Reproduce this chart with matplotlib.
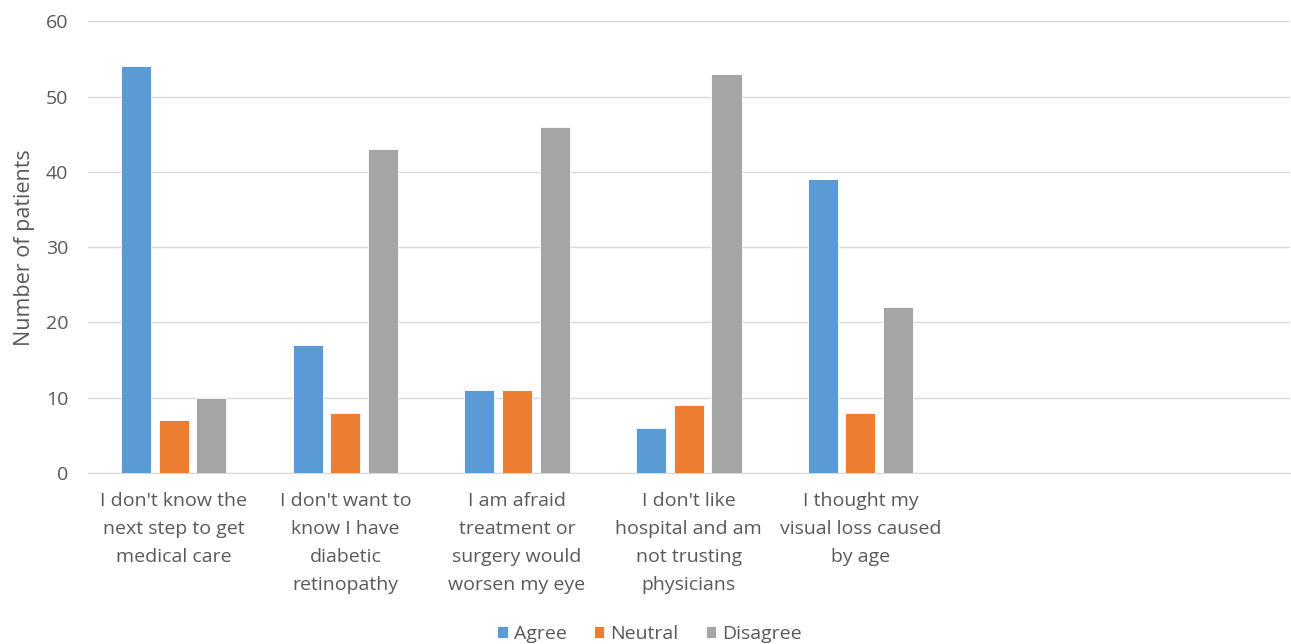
import matplotlib

matplotlib.use("Agg")
import matplotlib.pyplot as plt
import numpy as np

categories = [
    "I don't know the\nnext step to get\nmedical care",
    "I don't want to\nknow I have\ndiabetic\nretinopathy",
    "I am afraid\ntreatment or\nsurgery would\nworsen my eye",
    "I don't like\nhospital and am\nnot trusting\nphysicians",
    "I thought my\nvisual loss caused\nby age",
    "",
    "",
]
series_names = ["Agree", "Neutral", "Disagree"]
agree = [54, 17, 11, 6, 39]
neutral = [7, 8, 11, 9, 8]
disagree = [10, 43, 46, 53, 22]
y_ticks = [0, 10, 20, 30, 40, 50, 60]

colors = ["#5B9BD5", "#ED7D31", "#A5A5A5"]
text_color = "#595959"

plt.rcParams["font.family"] = ["Open Sans", "DejaVu Sans"]

fig = plt.figure(figsize=(12.91, 6.44), dpi=100)
ax = fig.add_axes([0.068, 0.2655, 0.931, 0.7015])

x = np.arange(len(categories))
width = 0.175
step = 0.22
for i, (name, vals) in enumerate(zip(series_names, [agree, neutral, disagree])):
    ax.bar(x[:len(vals)] + (i - 1) * step, vals, width=width, color=colors[i],
           label=name, zorder=3, edgecolor="white", linewidth=0.6)

ax.set_xlim(-0.5, len(categories) - 0.5)
ax.set_ylim(0, 60)
ax.set_yticks(y_ticks)
ax.set_xticks(x)
ax.set_xticklabels(categories, fontsize=14, color=text_color, linespacing=1.7)
ax.tick_params(axis="y", labelsize=14, colors=text_color, length=0, pad=14)
ax.tick_params(axis="x", length=0, pad=14)
ax.grid(axis="y", color="#D9D9D9", linewidth=1.0, zorder=0)
for s in ["top", "right", "left"]:
    ax.spines[s].set_visible(False)
ax.spines["bottom"].set_color("#D9D9D9")
ax.set_ylabel("Number of patients", fontsize=15.5, color=text_color, labelpad=8)

fig.legend(loc="lower center", bbox_to_anchor=(0.503, -0.025), ncol=3, frameon=False,
           fontsize=14, labelcolor=text_color, handlelength=0.55, handleheight=0.55,
           handletextpad=0.3, columnspacing=1.4)

fig.savefig("out.png", dpi=100)
